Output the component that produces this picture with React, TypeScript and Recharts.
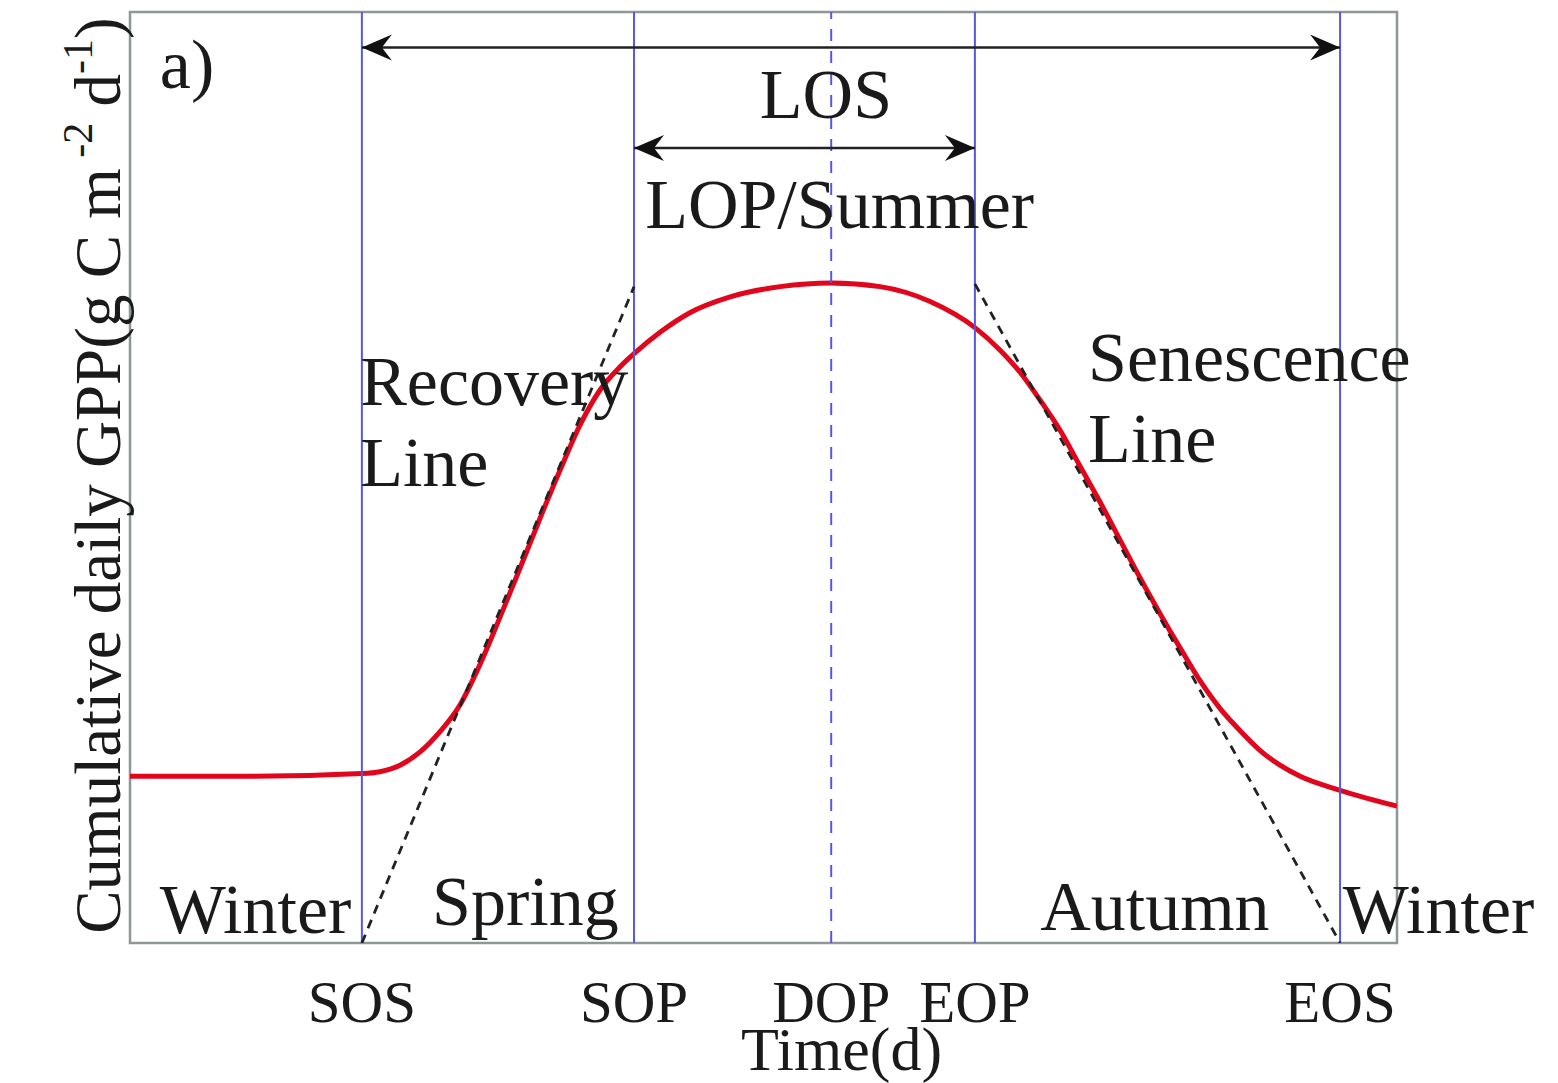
import React from 'react';
import {
  ComposedChart,
  Line,
  XAxis,
  YAxis,
  ReferenceLine,
  ReferenceArea,
  ReferenceDot,
} from 'recharts';

// ---- data ----
const curveDays = [0, 34.6, 66.8, 72.0, 77.8, 83.5, 89.3, 95.1, 100.8, 106.6, 112.4, 118.1, 123.9, 129.6, 135.4, 141.2, 145.2, 152.7, 161.3, 172.9, 187.3, 202, 216.1, 230.5, 243.4, 250.6, 256.4, 262.2, 267.9, 273.7, 279.4, 285.2, 291.0, 296.7, 302.5, 308.2, 314.0, 319.8, 325.5, 331.3, 337.1, 348.6, 365];
const gppValues = [1.79, 1.79, 1.82, 1.84, 1.91, 2.05, 2.27, 2.56, 2.99, 3.50, 4.03, 4.56, 5.08, 5.56, 5.94, 6.19, 6.33, 6.56, 6.77, 6.94, 7.05, 7.09, 7.05, 6.89, 6.61, 6.37, 6.13, 5.83, 5.51, 5.12, 4.74, 4.33, 3.92, 3.54, 3.17, 2.82, 2.52, 2.28, 2.07, 1.91, 1.79, 1.64, 1.47];

const phenoNames = ['SOS', 'SOP', 'DOP', 'EOP', 'EOS'];
const phenoDays = [66.8, 145.2, 202, 243.4, 348.6];

const recoveryDays = [66.8, 145.2];
const recoveryValues = [0, 7.05];
const senescenceDays = [243.4, 348.6];
const senescenceValues = [7.08, 0];

const losArrow = { from: 66.8, to: 348.6, level: 9.62 };
const lopArrow = { from: 145.2, to: 243.4, level: 8.54 };

const X_DOMAIN = [0, 365];
const Y_DOMAIN = [0, 10];

const annotations = [
  { text: 'a)', x: 8.6, y: 9.18 },
  { text: 'LOS', x: 200.5, y: 8.86, anchor: 'middle' },
  { text: 'LOP/Summer', x: 148.4, y: 7.68 },
  { text: 'Recovery', x: 66.3, y: 5.78 },
  { text: 'Line', x: 66.3, y: 4.91 },
  { text: 'Senescence', x: 276.0, y: 6.04 },
  { text: 'Line', x: 276.0, y: 5.17 },
  { text: 'Winter', x: 8.6, y: 0.107 },
  { text: 'Spring', x: 87.0, y: 0.19 },
  { text: 'Autumn', x: 262.2, y: 0.14 },
  { text: 'Winter', x: 349.4, y: 0.107 },
];

const xTitle = { text: 'Time(d)', x: 205, y: -1.36 };

const curveData = curveDays.map((d, i) => ({ day: d, gpp: gppValues[i] }));
const recoveryData = recoveryDays.map((d, i) => ({ day: d, v: recoveryValues[i] }));
const senescenceData = senescenceDays.map((d, i) => ({ day: d, v: senescenceValues[i] }));

// ---- styles ----
const FONT = '"Liberation Serif", "Times New Roman", Times, serif';
const BLUE = '#5757e6';
const RED = '#e2061c';
const FRAME = '#8e9696';
const TEXT = '#1a1a1a';

const arrowHead = (tx: number, ty: number, dir: number) => {
  const L = 30;
  const W = 13;
  const N = 20;
  return `M${tx},${ty} L${tx + dir * L},${ty - W} L${tx + dir * N},${ty} L${tx + dir * L},${ty + W} Z`;
};

const DoubleArrow = (props: any) => {
  const { x1, y1, x2, y2 } = props;
  return (
    <g>
      <line x1={x1} y1={y1} x2={x2} y2={y2} stroke="#222" strokeWidth={2.5} />
      <path d={arrowHead(x1, y1, 1)} fill="#111" />
      <path d={arrowHead(x2, y2, -1)} fill="#111" />
    </g>
  );
};

const tickRenderer = (props: any) => {
  const { x, y, payload } = props;
  const idx = phenoDays.indexOf(payload.value);
  return (
    <text x={x} y={y + 71} textAnchor="middle" fontFamily={FONT} fontSize={59} fill={TEXT}>
      {idx >= 0 ? phenoNames[idx] : ''}
    </text>
  );
};

const YLabel = (props: any) => {
  const vb = props.viewBox || { x: 0, y: 4, width: 122, height: 931 };
  const cx = vb.x + 112;
  const cy = vb.y + vb.height / 2 - 2;
  return (
    <text
      x={cx}
      y={cy}
      transform={`rotate(-90, ${cx}, ${cy})`}
      textAnchor="middle"
      fontFamily={FONT}
      fontSize={65}
      fill={TEXT}
    >
      Cumulative daily GPP(g C m
      <tspan fontSize={42} dy={-28}> -2</tspan>
      <tspan dy={28}> d</tspan>
      <tspan fontSize={42} dy={-28}>-1</tspan>
      <tspan dy={28}>)</tspan>
    </text>
  );
};

export default function App() {
  return (
    <div style={{ width: 1550, height: 1075 }}>
      <style>{'html, body { overflow: hidden; }'}</style>
      <ComposedChart
        width={1550}
        height={1075}
        data={curveData}
        margin={{ top: 4, right: 161, bottom: 0, left: 0 }}
        style={{ overflow: 'visible' }}
      >
        <XAxis
          dataKey="day"
          type="number"
          domain={X_DOMAIN}
          ticks={phenoDays}
          tick={tickRenderer}
          tickLine={false}
          axisLine={false}
          height={140}
          allowDataOverflow
        />
        <YAxis
          type="number"
          domain={Y_DOMAIN}
          width={122}
          tick={false}
          tickLine={false}
          axisLine={false}
          allowDataOverflow
          label={{ content: YLabel }}
        />
        <ReferenceArea
          x1={X_DOMAIN[0]}
          x2={X_DOMAIN[1]}
          y1={Y_DOMAIN[0]}
          y2={Y_DOMAIN[1]}
          fill="none"
          stroke={FRAME}
          strokeWidth={2.5}
          ifOverflow="visible"
        />
        <Line
          dataKey="gpp"
          type="monotone"
          stroke={RED}
          strokeWidth={5}
          dot={false}
          activeDot={false}
          isAnimationActive={false}
        />
        {phenoDays.map((d, i) => (
          <ReferenceLine
            key={phenoNames[i]}
            x={d}
            stroke={BLUE}
            strokeWidth={2}
            strokeDasharray={phenoNames[i] === 'DOP' ? '12 10' : undefined}
          />
        ))}
        <Line
          data={recoveryData}
          dataKey="v"
          type="linear"
          stroke="#222"
          strokeWidth={2.8}
          strokeDasharray="9 7"
          dot={false}
          activeDot={false}
          isAnimationActive={false}
        />
        <Line
          data={senescenceData}
          dataKey="v"
          type="linear"
          stroke="#222"
          strokeWidth={2.8}
          strokeDasharray="9 7"
          dot={false}
          activeDot={false}
          isAnimationActive={false}
        />
        <ReferenceLine
          segment={[{ x: losArrow.from, y: losArrow.level }, { x: losArrow.to, y: losArrow.level }]}
          shape={DoubleArrow}
          ifOverflow="visible"
        />
        <ReferenceLine
          segment={[{ x: lopArrow.from, y: lopArrow.level }, { x: lopArrow.to, y: lopArrow.level }]}
          shape={DoubleArrow}
          ifOverflow="visible"
        />
        {annotations.map((a, i) => (
          <ReferenceDot
            key={i}
            x={a.x}
            y={a.y}
            r={0}
            ifOverflow="visible"
            shape={(p: any) => (
              <text
                x={p.cx}
                y={p.cy}
                textAnchor={(a as any).anchor || 'start'}
                fontFamily={FONT}
                fontSize={70}
                fill={TEXT}
              >
                {a.text}
              </text>
            )}
          />
        ))}
        <ReferenceDot
          x={xTitle.x}
          y={xTitle.y}
          r={0}
          ifOverflow="visible"
          shape={(p: any) => (
            <text x={p.cx} y={p.cy} textAnchor="middle" fontFamily={FONT} fontSize={62} fill={TEXT}>
              {xTitle.text}
            </text>
          )}
        />
      </ComposedChart>
    </div>
  );
}
